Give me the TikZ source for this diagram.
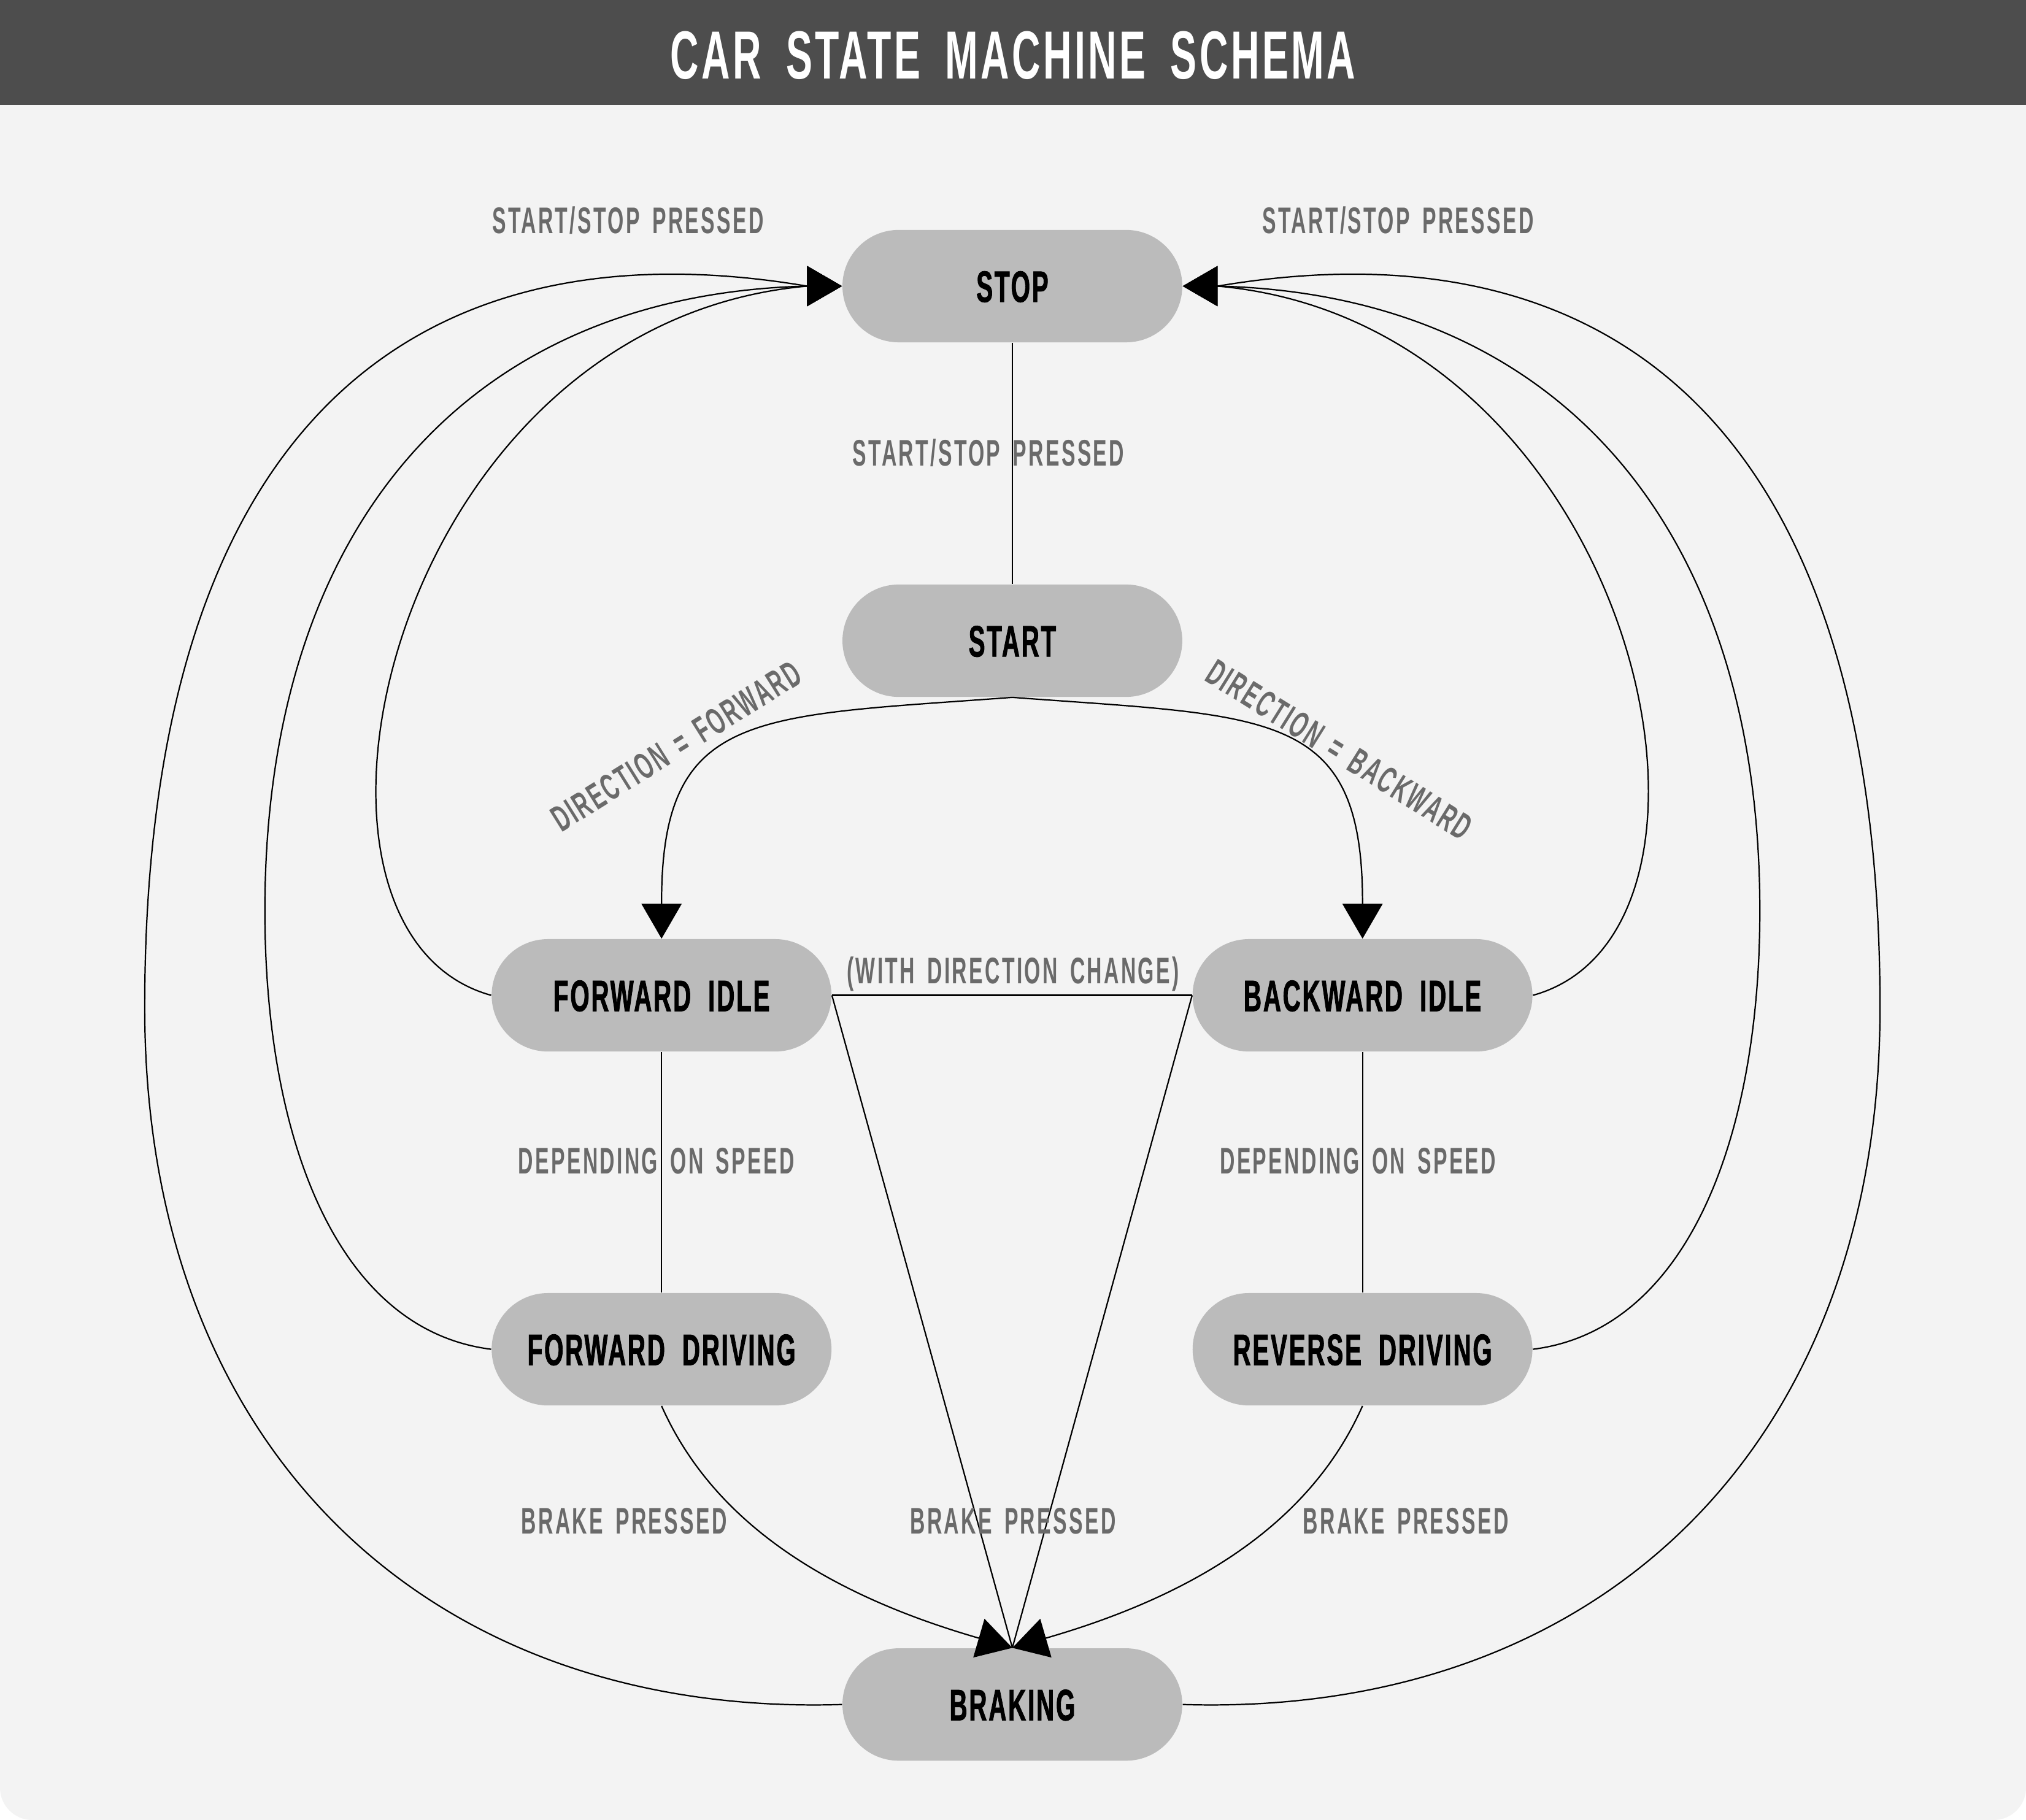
\documentclass[tikz,border=0pt]{standalone}
\usepackage{fontspec}
\setmainfont{Liberation Sans}
\newfontfamily\statefont{Liberation Sans}[FakeStretch=0.56,LetterSpace=4,WordSpace=2,FakeBold=1.2]
\newfontfamily\transfont{Liberation Sans}[FakeStretch=0.56,LetterSpace=5.5,WordSpace=1.6]
\newfontfamily\headfont{Liberation Sans}[FakeStretch=0.58,LetterSpace=4,WordSpace=1.8]
\usetikzlibrary{arrows.meta}
\definecolor{barcol}{HTML}{4D4D4D}
\definecolor{panelcol}{HTML}{F3F3F3}
\definecolor{statecol}{HTML}{BBBBBB}
\definecolor{labelcol}{HTML}{6A6A6A}

\begin{document}
\begin{tikzpicture}[x=0.2mm,y=-0.2mm,
        carstate/.style={fill=statecol,rounded corners=8.7mm,minimum width=52.6mm,minimum height=17.4mm,inner sep=0pt,text height=4.9mm,text depth=0pt,font=\statefont\bfseries\fontsize{19.4}{20}\selectfont},
        trans/.style={text=labelcol,inner sep=0pt,text height=4.2mm,text depth=0pt,font=\transfont\bfseries\fontsize{16.3}{18}\selectfont},
        link/.style={line width=0.6pt},
        flow/.style={line width=0.6pt,-{Triangle[length=5.4mm,width=6.2mm]}}]
            \useasboundingbox (0,0) rectangle (1568,1408.9);
            \fill[white] (0,0) rectangle (1568,1408.9);
            \fill[panelcol,rounded corners=5mm] (0,0) rectangle (1568,1408.9);
            \fill[barcol] (0,0) rectangle (1568,81);
            \node[white,inner sep=0pt,text height=7.6mm,text depth=0pt,font=\headfont\bfseries\fontsize{30}{32}\selectfont] (title) at (784,42) {CAR STATE MACHINE SCHEMA};

            \node[carstate] (stop) at (783.5,221.5) {STOP};
            \node[carstate] (start) at (783.5,496) {START};
            \node[carstate] (fwdidle) at (512,770.5) {FORWARD IDLE};
            \node[carstate] (bwdidle) at (1054.5,770.5) {BACKWARD IDLE};
            \node[carstate] (fwddrive) at (512,1044.5) {FORWARD DRIVING};
            \node[carstate] (revdrive) at (1054.5,1044.5) {REVERSE DRIVING};
            \node[carstate] (braking) at (783.5,1319.5) {BRAKING};

            \coordinate (stopin1) at ([xshift=-5.4mm]stop.west);
            \coordinate (stopin2) at ([xshift=5.4mm]stop.east);
            \coordinate (fwdin) at ([yshift=5.6mm]fwdidle.north);
            \coordinate (bwdin) at ([yshift=5.6mm]bwdidle.north);
            \coordinate (brakein1) at ([shift={(-25.5,-7.4)}]braking.north);
            \coordinate (brakein2) at ([shift={(25.5,-7.4)}]braking.north);
            \coordinate (bendl2) at (205,705);
            \coordinate (bendr2) at (1362,705);
            \coordinate (bendl3) at (112,780);
            \coordinate (bendr3) at (1455,780);

            \draw[link] (stop.south) -- (start.north);
            \draw[link] (fwdidle.south) -- (fwddrive.north);
            \draw[link] (bwdidle.south) -- (revdrive.north);
            \draw[link] (fwdidle.east) -- (bwdidle.west);
            \draw[link] (fwdidle.east) -- (braking.north);
            \draw[link] (bwdidle.west) -- (braking.north);

            \draw[flow] (start.south) .. controls +(-200,15) and +(0,-150) .. (fwdin) -- (fwdidle.north);
            \draw[flow] (start.south) .. controls +(200,15) and +(0,-150) .. (bwdin) -- (bwdidle.north);
            \draw[flow] (fwddrive.south) .. controls +(40,90) and +(-118,-34) .. (brakein1) -- (braking.north);
            \draw[flow] (revdrive.south) .. controls +(-40,90) and +(118,-34) .. (brakein2) -- (braking.north);

            \draw[flow] (fwdidle.west) .. controls +(-181,-50) and +(-325,29) .. (stopin1) -- (stop.west);
            \draw[flow] (bwdidle.east) .. controls +(181,-50) and +(325,29) .. (stopin2) -- (stop.east);
            \draw[flow] (fwddrive.west) .. controls +(-120,-15) and +(0,175) .. (bendl2) .. controls +(0,-295) and +(-265,6.5) .. (stopin1) -- (stop.west);
            \draw[flow] (revdrive.east) .. controls +(120,-15) and +(0,175) .. (bendr2) .. controls +(0,-295) and +(265,6.5) .. (stopin2) -- (stop.east);
            \draw[flow] (braking.west) .. controls +(-322,10) and +(0,340) .. (bendl3) .. controls +(0,-450) and +(-305,-51.5) .. (stopin1) -- (stop.west);
            \draw[flow] (braking.east) .. controls +(322,10) and +(0,340) .. (bendr3) .. controls +(0,-450) and +(305,-51.5) .. (stopin2) -- (stop.east);

            \node[trans] (lstopl) at (486,170) {START/STOP PRESSED};
            \node[trans] (lstopr) at (1082,170) {START/STOP PRESSED};
            \node[trans] (lstopm) at (765,350) {START/STOP PRESSED};
            \node[trans,rotate=32] (ldirf) at (523,577) {DIRECTION = FORWARD};
            \node[trans,rotate=-32] (ldirb) at (1037,580) {DIRECTION = BACKWARD};
            \node[trans] (lchange) at (784,751) {(WITH DIRECTION CHANGE)};
            \node[trans] (lspeedl) at (508,898) {DEPENDING ON SPEED};
            \node[trans] (lspeedr) at (1051,898) {DEPENDING ON SPEED};
            \node[trans] (lbrakel) at (483,1177) {BRAKE PRESSED};
            \node[trans] (lbrakem) at (784,1177) {BRAKE PRESSED};
            \node[trans] (lbraker) at (1088,1177) {BRAKE PRESSED};
        \end{tikzpicture}
\end{document}
